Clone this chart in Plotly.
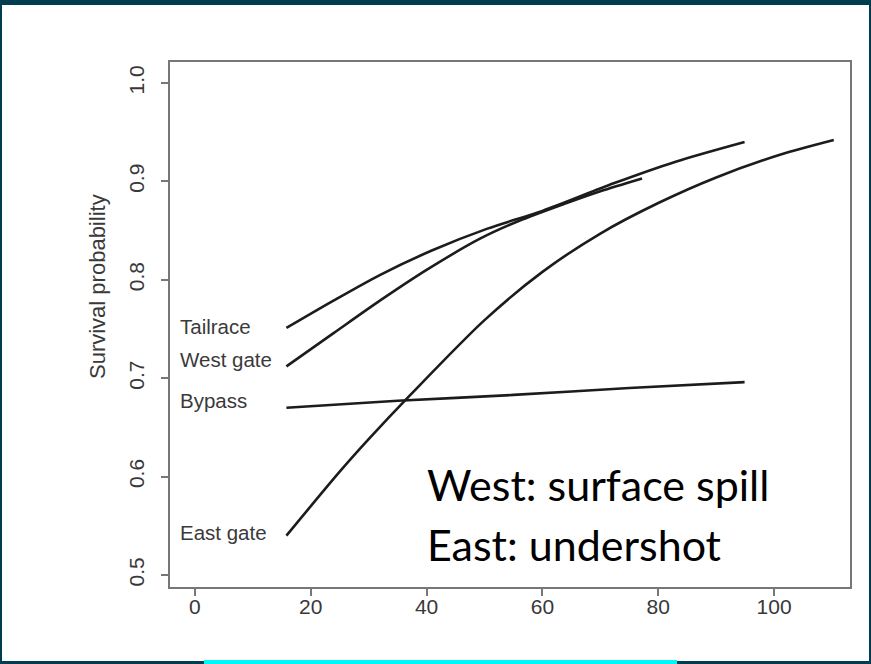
import plotly.graph_objects as go

# ---- data ----
tail_x = [15.8, 24.0, 32.0, 41.0, 50.5, 60.0, 72.3, 83.0, 94.9]
tail_y = [0.751, 0.779, 0.805, 0.830, 0.852, 0.870, 0.898, 0.920, 0.940]

west_x = [15.8, 24.0, 32.0, 40.0, 49.3, 56.0, 63.7, 70.0, 77.2]
west_y = [0.712, 0.746, 0.779, 0.810, 0.842, 0.860, 0.877, 0.890, 0.903]

bypass_x = [15.8, 35.0, 55.0, 75.0, 94.9]
bypass_y = [0.670, 0.677, 0.683, 0.690, 0.696]

east_x = [15.8, 25.0, 30.0, 37.2, 50.0, 60.0, 70.0, 80.0, 90.0, 101.0, 110.3]
east_y = [0.540, 0.605, 0.638, 0.683, 0.759, 0.808, 0.847, 0.878, 0.904, 0.927, 0.942]

curve_labels = ["Tailrace", "West gate", "Bypass", "East gate"]
label_y = [0.753, 0.7185, 0.677, 0.543]
label_x = -3.0

x_ticks = [0, 20, 40, 60, 80, 100]
y_ticks = [0.5, 0.6, 0.7, 0.8, 0.9, 1.0]
y_ticktext = ["0.5", "0.6", "0.7", "0.8", "0.9", "1.0"]

note_lines = ["West: surface spill", "East: undershot"]
note_y = [0.5915, 0.5305]
note_x = 39.8

# ---- layout geometry (pixels) ----
W, H = 871, 664
L, R, T, B = 170, 850, 62, 587


def px(xp):
    return (xp - L) / (R - L)


def py(yp):
    return (B - yp) / (B - T)


fig = go.Figure()
line_style = dict(color="#1c1c1c", width=2.6)
for xs, ys in [(tail_x, tail_y), (west_x, west_y), (bypass_x, bypass_y), (east_x, east_y)]:
    fig.add_trace(go.Scatter(x=xs, y=ys, mode="lines", line=dict(shape="spline", smoothing=0.8, **line_style),
                             showlegend=False, hoverinfo="skip"))

annotations = []
for t, yv in zip(curve_labels, label_y):
    annotations.append(dict(x=label_x, y=yv, xref="x", yref="y", text=t, showarrow=False,
                            xanchor="left", yanchor="middle",
                            font=dict(family="Liberation Sans, Arial", size=20.5, color="#3a3a3a")))
for t, yv in zip(note_lines, note_y):
    annotations.append(dict(x=note_x, y=yv, xref="x", yref="y", text=t, showarrow=False,
                            xanchor="left", yanchor="middle",
                            font=dict(family="Lato, Open Sans", size=43, color="#000000")))
annotations.append(dict(x=px(97), y=py(287), xref="paper", yref="paper", text="Survival probability",
                        showarrow=False, textangle=-90, xanchor="center", yanchor="middle",
                        font=dict(family="Liberation Sans, Arial", size=22, color="#3a3a3a")))

border = "#003d50"
shapes = [
    dict(type="rect", xref="paper", yref="paper", x0=px(0), x1=px(W), y0=py(0), y1=py(5),
         fillcolor=border, line_width=0, layer="above"),
    dict(type="rect", xref="paper", yref="paper", x0=px(0), x1=px(2), y0=py(0), y1=py(H),
         fillcolor=border, line_width=0, layer="above"),
    dict(type="rect", xref="paper", yref="paper", x0=px(W - 2), x1=px(W), y0=py(0), y1=py(H),
         fillcolor=border, line_width=0, layer="above"),
    dict(type="rect", xref="paper", yref="paper", x0=px(0), x1=px(W), y0=py(661), y1=py(H),
         fillcolor=border, line_width=0, layer="above"),
    dict(type="rect", xref="paper", yref="paper", x0=px(204), x1=px(677), y0=py(660), y1=py(H),
         fillcolor="#00f7f7", line_width=0, layer="above"),
]

axis_font = dict(family="Liberation Sans, Arial", size=21, color="#383838")
fig.update_layout(
    width=W, height=H,
    margin=dict(l=L, r=W - R, t=T, b=H - B, pad=0),
    paper_bgcolor="white", plot_bgcolor="white",
    annotations=annotations, shapes=shapes,
    xaxis=dict(range=[-4.3, 113.1], tickvals=x_ticks, ticks="outside", ticklen=7, tickwidth=2,
               tickcolor="#777777", showline=True, linecolor="#777777", linewidth=2, mirror=True,
               showgrid=False, zeroline=False, tickfont=axis_font, ticklabelstandoff=-7),
    yaxis=dict(range=[0.4878, 1.0213], tickvals=y_ticks, ticktext=y_ticktext, ticks="outside", ticklen=7,
               tickwidth=2, tickcolor="#777777", showline=True, linecolor="#777777", linewidth=2,
               mirror=True, showgrid=False, zeroline=False, tickangle=-90, tickfont=axis_font,
               ticklabelstandoff=9),
)

fig.write_html("out.html", config={"displayModeBar": False},
               post_script="document.body.style.margin='0';document.body.style.overflow='hidden';")
